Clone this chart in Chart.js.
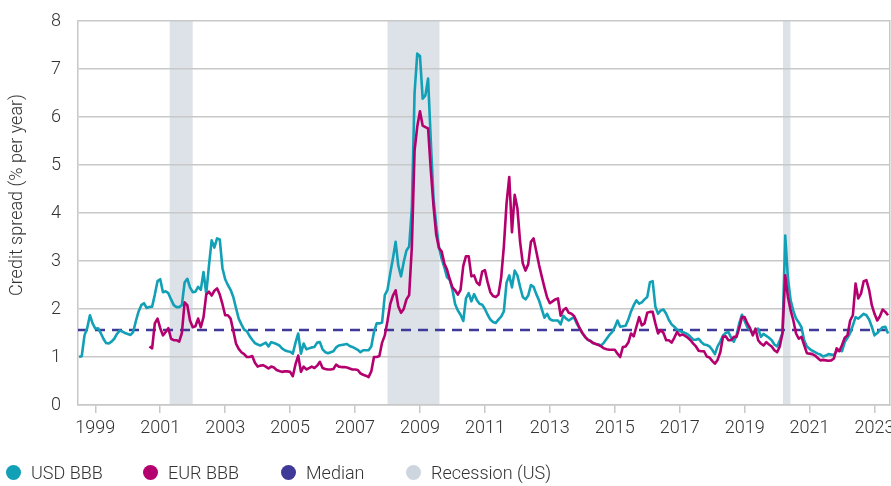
<!DOCTYPE html>
<html>
<head>
<meta charset="utf-8">
<script src="https://cdn.jsdelivr.net/npm/chart.js@4.4.0/dist/chart.umd.min.js"></script>
<style>
  html, body { margin: 0; padding: 0; background: #ffffff; }
  #wrap { position: relative; width: 891px; height: 486px; overflow: hidden; }
  #chart { position: absolute; left: 0; top: 0; }
  .item { position: absolute; top: 462px; height: 20px; display: flex; align-items: center; white-space: nowrap;
          font-family: Roboto, sans-serif; font-weight: 300; font-size: 18px; color: #333333; }
  .dot { width: 15px; height: 15px; border-radius: 50%; margin-right: 10px; flex: none; }
</style>
</head>
<body>
<div id="wrap">
  <canvas id="chart" width="891" height="486"></canvas>
  <div id="legend"></div>
</div>
<script>
// ---------------- data ----------------
const firstMonth = { year: 1998, month: 7 };   // series start: July 1998, monthly
const eurStartOffset = 26;                       // EUR series starts September 2000

const usdBBB = [
  1.00, 1.02, 1.45, 1.60, 1.87, 1.70, 1.59, 1.60, 1.50, 1.38, 1.29, 1.28,
  1.32, 1.38, 1.48, 1.55, 1.53, 1.50, 1.48, 1.46, 1.52, 1.75, 1.95, 2.08,
  2.12, 2.02, 2.04, 2.05, 2.30, 2.58, 2.62, 2.35, 2.37, 2.33, 2.20, 2.08,
  2.04, 2.04, 2.08, 2.55, 2.63, 2.45, 2.35, 2.36, 2.46, 2.40, 2.77, 2.32,
  2.90, 3.43, 3.28, 3.47, 3.45, 2.85, 2.62, 2.50, 2.40, 2.25, 2.02, 1.80,
  1.68, 1.57, 1.54, 1.44, 1.36, 1.29, 1.26, 1.24, 1.27, 1.30, 1.22, 1.31,
  1.29, 1.27, 1.24, 1.18, 1.14, 1.12, 1.11, 1.07, 1.30, 1.49, 1.07, 1.28,
  1.16, 1.18, 1.20, 1.21, 1.30, 1.31, 1.16, 1.10, 1.08, 1.10, 1.12, 1.20,
  1.24, 1.25, 1.26, 1.27, 1.23, 1.21, 1.18, 1.15, 1.10, 1.14, 1.14, 1.14,
  1.22, 1.52, 1.70, 1.70, 1.72, 2.29, 2.40, 2.74, 3.05, 3.40, 2.90, 2.68,
  2.98, 3.22, 3.30, 4.10, 6.50, 7.32, 7.27, 6.38, 6.45, 6.80, 5.50, 4.30,
  3.75, 3.30, 3.05, 2.87, 2.66, 2.61, 2.40, 2.10, 1.97, 1.88, 1.75, 2.22,
  2.33, 2.16, 2.31, 2.19, 2.11, 2.09, 2.00, 1.88, 1.78, 1.73, 1.71, 1.78,
  1.84, 1.95, 2.55, 2.70, 2.45, 2.80, 2.70, 2.46, 2.25, 2.20, 2.28, 2.50,
  2.46, 2.31, 2.18, 2.00, 1.82, 1.90, 1.79, 1.76, 1.76, 1.76, 1.68, 1.86,
  1.80, 1.76, 1.80, 1.82, 1.69, 1.60, 1.50, 1.42, 1.36, 1.34, 1.29, 1.27,
  1.26, 1.24, 1.30, 1.38, 1.46, 1.52, 1.62, 1.76, 1.63, 1.64, 1.65, 1.78,
  1.95, 2.08, 2.18, 2.11, 2.14, 2.20, 2.25, 2.56, 2.58, 2.05, 1.90, 1.97,
  1.99, 1.90, 1.77, 1.68, 1.63, 1.57, 1.54, 1.52, 1.50, 1.47, 1.42, 1.36,
  1.36, 1.38, 1.31, 1.26, 1.25, 1.22, 1.15, 1.06, 1.22, 1.32, 1.45, 1.50,
  1.52, 1.40, 1.32, 1.45, 1.70, 1.88, 1.75, 1.62, 1.56, 1.50, 1.55, 1.59,
  1.42, 1.48, 1.44, 1.40, 1.35, 1.26, 1.22, 1.35, 1.50, 3.53, 2.63, 2.18,
  1.96, 1.80, 1.72, 1.62, 1.35, 1.22, 1.17, 1.13, 1.10, 1.07, 1.05, 1.01,
  1.03, 1.06, 1.05, 1.04, 1.12, 1.15, 1.12, 1.31, 1.40, 1.50, 1.66, 1.83,
  1.80, 1.85, 1.90, 1.87, 1.78, 1.63, 1.45, 1.50, 1.56, 1.62, 1.63, 1.49
];

const eurBBB = [
                                                      1.22, 1.18, 1.70, 1.80, 1.60, 1.45, 1.52, 1.60, 1.38, 1.35,
  1.35, 1.32, 1.50, 2.14, 2.08, 1.76, 1.62, 1.64, 1.80, 1.62, 1.83, 2.30,
  2.36, 2.28, 2.38, 2.43, 2.30, 2.10, 1.87, 1.87, 1.80, 1.55, 1.28, 1.17,
  1.10, 1.06, 1.00, 1.00, 1.02, 0.88, 0.80, 0.82, 0.83, 0.80, 0.76, 0.80,
  0.78, 0.73, 0.71, 0.69, 0.70, 0.70, 0.69, 0.60, 0.85, 1.03, 0.69, 0.80,
  0.74, 0.77, 0.80, 0.77, 0.82, 0.90, 0.77, 0.75, 0.74, 0.74, 0.75, 0.84,
  0.80, 0.79, 0.79, 0.78, 0.76, 0.74, 0.74, 0.73, 0.66, 0.63, 0.61, 0.58,
  0.70, 1.00, 1.00, 1.02, 1.30, 1.45, 1.75, 2.10, 2.28, 2.39, 2.05, 1.92,
  2.00, 2.20, 2.29, 3.30, 5.30, 5.80, 6.12, 5.82, 5.79, 5.76, 4.90, 4.15,
  3.55, 3.27, 3.20, 2.95, 2.82, 2.62, 2.45, 2.39, 2.30, 2.40, 2.90, 3.10,
  3.10, 2.68, 2.70, 2.55, 2.50, 2.78, 2.81, 2.56, 2.35, 2.27, 2.25, 2.30,
  2.65, 3.30, 4.20, 4.75, 3.60, 4.38, 4.10, 3.40, 2.95, 2.80, 2.93, 3.40,
  3.47, 3.20, 2.92, 2.68, 2.45, 2.24, 2.12, 2.16, 2.20, 2.22, 1.86, 1.98,
  2.02, 1.92, 1.90, 1.85, 1.73, 1.60, 1.50, 1.42, 1.36, 1.33, 1.29, 1.27,
  1.25, 1.22, 1.18, 1.16, 1.15, 1.15, 1.15, 1.07, 1.00, 1.21, 1.22, 1.30,
  1.49, 1.43, 1.63, 1.83, 1.66, 1.70, 1.92, 1.94, 1.94, 1.70, 1.49, 1.56,
  1.50, 1.35, 1.35, 1.30, 1.40, 1.52, 1.45, 1.47, 1.44, 1.40, 1.35, 1.28,
  1.22, 1.13, 1.12, 1.12, 1.01, 0.99, 0.92, 0.86, 0.94, 1.10, 1.42, 1.43,
  1.35, 1.35, 1.42, 1.42, 1.60, 1.83, 1.83, 1.70, 1.60, 1.45, 1.59, 1.35,
  1.28, 1.24, 1.31, 1.26, 1.22, 1.14, 1.10, 1.22, 1.50, 2.70, 2.25, 1.97,
  1.76, 1.49, 1.38, 1.42, 1.25, 1.08, 1.07, 1.06, 1.03, 0.98, 0.93, 0.94,
  0.93, 0.92, 0.93, 0.97, 1.18, 1.12, 1.25, 1.40, 1.45, 1.76, 1.87, 2.53,
  2.22, 2.32, 2.58, 2.60, 2.40, 2.08, 1.90, 1.76, 1.85, 1.99, 1.94, 1.87
];

const medianValue = 1.56;
const recessionsUS = [[2001.29, 2002.0], [2008.0, 2009.6], [2020.18, 2020.41]];
const xTickYears = [1999, 2001, 2003, 2005, 2007, 2009, 2011, 2013, 2015, 2017, 2019, 2021, 2023];
const yTicks = [0, 1, 2, 3, 4, 5, 6, 7, 8];
const yAxisTitle = 'Credit spread (% per year)';
const legendLabels = ['USD BBB', 'EUR BBB', 'Median', 'Recession (US)'];

// ---------------- styles ----------------
const colors = { usd: '#12a0b6', eur: '#b4006e', median: '#3f3997', recession: '#dde2e9', recessionLegend: '#cdd6df',
                 grid: '#c8c8c8', text: '#333333' };
const FONT = 'Roboto, sans-serif';

// monthly x positions (decimal years)
const monthPos = i => firstMonth.year + (firstMonth.month - 1) / 12 + i / 12;
const usdPoints = usdBBB.map((v, i) => ({ x: monthPos(i), y: v }));
const eurPoints = eurBBB.map((v, i) => ({ x: monthPos(i + eurStartOffset), y: v }));
const xMin = 1998.467, xMax = 2023.477;
const medianPoints = [{ x: xMin, y: medianValue }, { x: xMax, y: medianValue }];

const recessionPlugin = {
  id: 'recession',
  beforeDraw(chart) {
    const { ctx, chartArea, scales } = chart;
    ctx.save();
    ctx.fillStyle = colors.recession;
    recessionsUS.forEach(([s, e]) => {
      const x0 = scales.x.getPixelForValue(s);
      const x1 = scales.x.getPixelForValue(e);
      ctx.fillRect(x0, chartArea.top, x1 - x0, chartArea.bottom - chartArea.top);
    });
    ctx.restore();
  }
};

const yTitlePlugin = {
  id: 'yTitle',
  afterDraw(chart) {
    const ctx = chart.ctx;
    ctx.save();
    ctx.translate(17, 195);
    ctx.rotate(-Math.PI / 2);
    ctx.font = '300 18px ' + FONT;
    ctx.fillStyle = colors.text;
    ctx.textAlign = 'center';
    ctx.textBaseline = 'middle';
    ctx.fillText(yAxisTitle, 0, 0);
    ctx.restore();
  }
};

Chart.defaults.font.family = FONT;
Chart.defaults.font.weight = 300;
Chart.defaults.color = colors.text;

new Chart(document.getElementById('chart'), {
  type: 'line',
  data: {
    datasets: [
      { label: legendLabels[1], data: eurPoints, borderColor: colors.eur, borderWidth: 2.6, pointRadius: 0, tension: 0, order: 0, borderJoinStyle: 'round' },
      { label: legendLabels[0], data: usdPoints, borderColor: colors.usd, borderWidth: 2.6, pointRadius: 0, tension: 0, order: 1, borderJoinStyle: 'round' },
      { label: legendLabels[2], data: medianPoints, borderColor: colors.median, borderWidth: 2.5, borderDash: [10, 7], pointRadius: 0, order: 2 }
    ]
  },
  options: {
    responsive: false,
    animation: false,
    devicePixelRatio: 1,
    layout: { padding: { top: 21, right: 1, bottom: 0, left: 0 } },
    plugins: { legend: { display: false }, tooltip: { enabled: false } },
    scales: {
      x: {
        type: 'linear',
        min: xMin, max: xMax,
        afterBuildTicks: s => { s.ticks = xTickYears.map(v => ({ value: v })); },
        afterFit: s => { s.height = 81; s.paddingLeft = 0; s.paddingRight = 0; },
        ticks: { autoSkip: false, maxRotation: 0, padding: 5, font: { size: 18, weight: 300 }, color: colors.text,
                 callback: v => String(v) },
        grid: { display: true, drawOnChartArea: false, drawTicks: true, tickLength: 8, color: colors.grid, lineWidth: 1.5 },
        border: { display: true, color: colors.grid, width: 1.5 }
      },
      y: {
        min: 0, max: 8,
        afterBuildTicks: s => { s.ticks = yTicks.map(v => ({ value: v })); },
        afterFit: s => { s.width = 78; s.paddingTop = 0; s.paddingBottom = 0; },
        ticks: { padding: 17, font: { size: 18, weight: 300 }, color: colors.text },
        grid: { color: colors.grid, lineWidth: 1.5, drawTicks: false },
        border: { display: true, color: colors.grid, width: 1.5 }
      },
      yRight: {
        position: 'right', min: 0, max: 8,
        afterFit: s => { s.width = 0; s.paddingTop = 0; s.paddingBottom = 0; },
        ticks: { display: false },
        grid: { display: false, drawTicks: false },
        border: { display: true, color: colors.grid, width: 1.5 }
      }
    }
  },
  plugins: [recessionPlugin, yTitlePlugin]
});

// ---------------- legend ----------------
const legendColors = [colors.usd, colors.eur, colors.median, colors.recessionLegend];
const legendLeft = [6, 143, 281, 406];
const legendEl = document.getElementById('legend');
legendLabels.forEach((t, i) => {
  const item = document.createElement('div');
  item.className = 'item';
  item.style.left = legendLeft[i] + 'px';
  const dot = document.createElement('span');
  dot.className = 'dot';
  dot.style.background = legendColors[i];
  const txt = document.createElement('span');
  txt.textContent = t;
  item.appendChild(dot);
  item.appendChild(txt);
  legendEl.appendChild(item);
});
</script>
</body>
</html>
